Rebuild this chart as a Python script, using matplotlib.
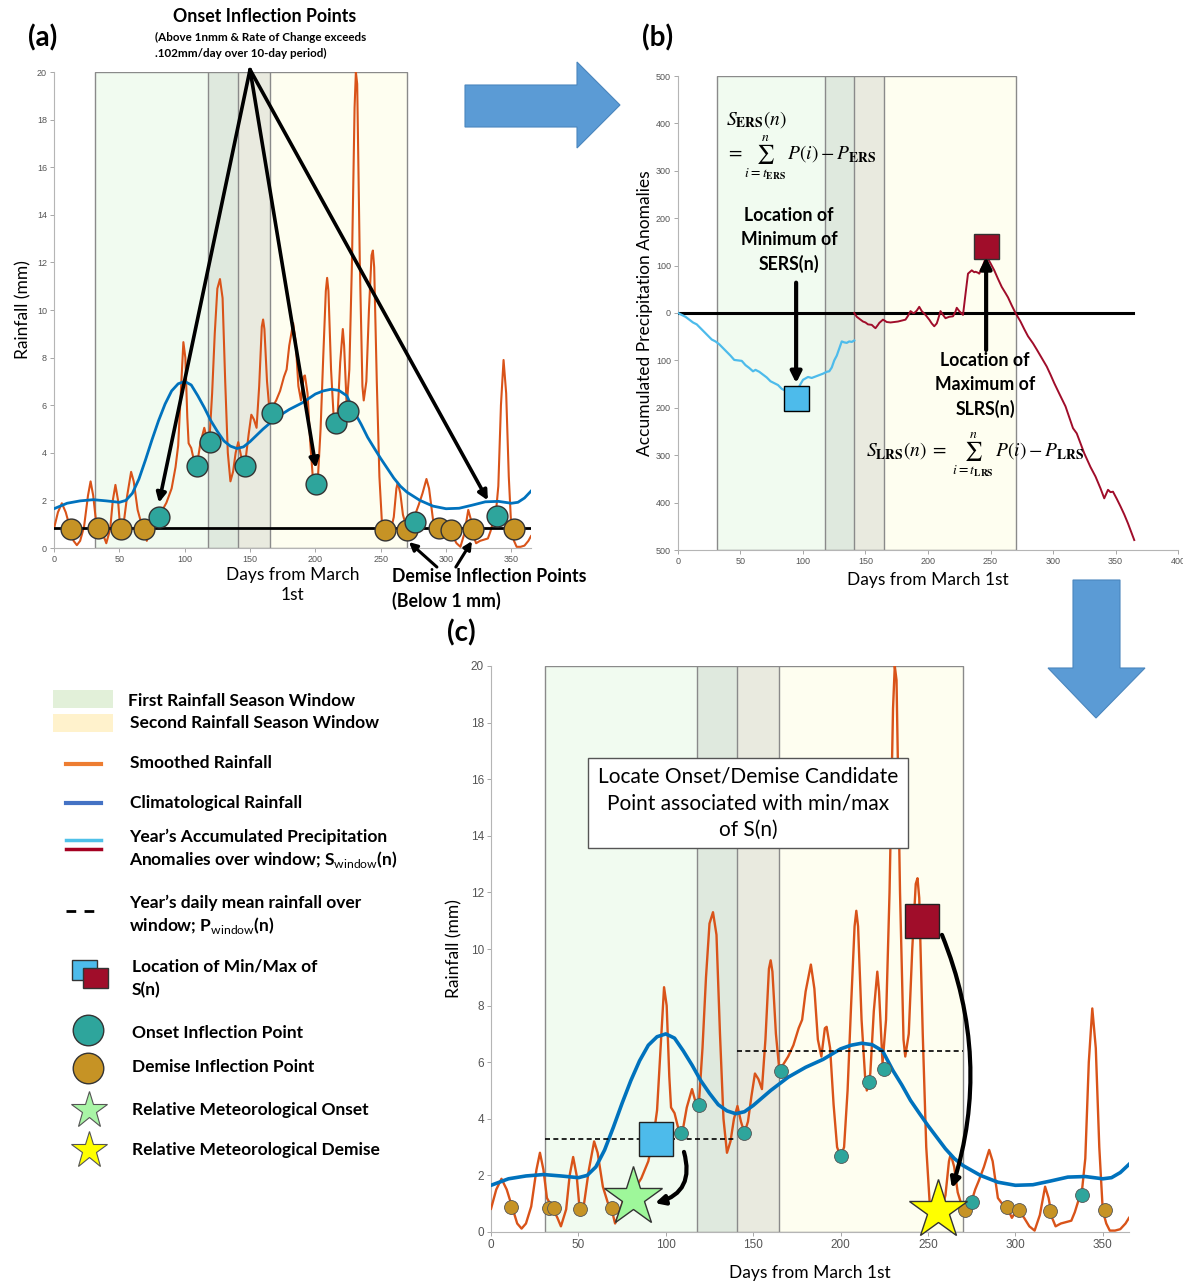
import numpy as np
import matplotlib
matplotlib.use('Agg')
import matplotlib.pyplot as plt
from matplotlib.patches import Rectangle, Polygon
from matplotlib.ticker import FuncFormatter

# ---------------- data ----------------
rain_days = [0, 3, 6, 9, 12, 15, 17.5, 20, 23, 26, 28, 30, 32, 35, 38, 40, 43, 45, 47, 49, 51, 53, 56, 59,
             61, 64, 67, 69, 71, 73, 76, 79, 81, 84, 86, 90, 93, 95, 97, 99, 100.5, 102, 103, 105, 107, 108,
             110, 112, 115, 117, 119, 121, 123, 125, 127, 129, 131, 133, 135, 137, 139, 141, 143, 145, 147,
             149, 151, 153, 155, 157, 159, 160, 161, 163, 165, 167, 170, 173, 176, 178, 180, 183, 185, 187,
             189, 191, 192, 194, 196, 198, 200, 202, 204, 206, 208, 209, 210, 212, 214, 215, 217, 219, 221,
             222, 224, 226, 228, 230, 231, 232, 234, 236, 237, 239, 241, 243, 244, 245, 247, 249, 251, 253,
             255, 257, 260, 262, 263, 265, 267, 270, 273, 275, 277, 279, 282, 285, 287, 290, 293, 295, 298,
             300, 302, 305, 308, 311, 314, 317, 319, 321, 323, 326, 329, 332, 334, 336, 338, 340, 342, 344,
             346, 348, 350, 352, 354, 357, 360, 363, 365]
rain_vals = [0.82, 1.5, 1.88, 1.5, 0.9, 0.3, 0.12, 0.3, 0.9, 2.2, 2.8, 2.2, 1.2, 0.88, 0.5, 0.2, 0.8, 2.0, 2.65,
             2.0, 0.6, 0.9, 2.2, 3.2, 2.8, 1.6, 1.0, 0.8, 0.3, 0.6, 1.2, 1.35, 1.4, 1.7, 1.9, 2.5, 3.4, 4.3,
             6.5, 8.65, 8.0, 5.5, 4.4, 4.2, 3.7, 3.5, 3.7, 4.4, 5.05, 4.6, 4.6, 6.5, 9.0, 10.9, 11.3, 10.5,
             7.0, 4.0, 2.8, 3.2, 4.0, 4.45, 3.9, 3.5, 3.9, 4.8, 5.6, 5.4, 5.05, 6.8, 9.3, 9.6, 9.2, 7.0, 5.7,
             5.9, 6.2, 6.6, 7.2, 7.5, 8.5, 9.45, 8.6, 6.8, 6.2, 7.2, 7.25, 6.5, 4.5, 3.0, 2.65, 3.0, 5.0, 8.0,
             10.8, 11.35, 10.8, 7.5, 5.5, 5.0, 5.6, 7.8, 9.2, 8.5, 5.95, 7.5, 12.0, 18.5, 20.0, 19.5, 12.0,
             6.8, 6.2, 7.0, 10.0, 12.3, 12.5, 11.8, 7.0, 3.0, 1.0, 0.7, 0.5, 0.6, 1.3, 2.5, 2.75, 2.3, 1.4,
             0.8, 0.9, 1.1, 1.5, 1.8, 2.3, 2.9, 2.5, 1.2, 0.95, 0.9, 0.5, 0.7, 0.75, 0.5, 0.2, 0.05, 0.6, 1.6,
             1.2, 0.5, 0.2, 0.3, 0.35, 0.4, 0.7, 1.1, 1.4, 2.6, 6.0, 7.9, 6.5, 3.0, 0.75, 0.3, 0.05, 0.05,
             0.1, 0.3, 0.5]

clim_days = [0, 10, 20, 30, 40, 50, 55, 60, 65, 70, 75, 80, 85, 90, 95, 100, 105, 110, 115, 120, 125, 130, 135,
             140, 145, 150, 160, 170, 180, 190, 200, 206, 212, 218, 224, 230, 235, 240, 245, 250, 255, 260, 265,
             270, 280, 290, 300, 310, 320, 330, 340, 350, 355, 360, 365]
clim_vals = [1.65, 1.88, 1.98, 2.03, 1.98, 1.92, 2.0, 2.3, 2.9, 3.7, 4.55, 5.35, 6.05, 6.6, 6.9, 7.0, 6.85, 6.4,
             5.9, 5.35, 4.9, 4.5, 4.28, 4.18, 4.25, 4.47, 5.0, 5.47, 5.82, 6.1, 6.47, 6.6, 6.67, 6.62, 6.4, 5.7,
             5.2, 4.65, 4.2, 3.76, 3.35, 2.94, 2.6, 2.35, 2.0, 1.76, 1.65, 1.67, 1.8, 1.94, 1.96, 1.88, 1.92,
             2.1, 2.39]

# onset / demise inflection points, panel (a)
onset_a_days = [80, 109.6, 119, 146, 167, 200.7, 215.6, 225, 276, 339]
onset_a_vals = [1.3, 3.45, 4.45, 3.45, 5.66, 2.69, 5.24, 5.76, 1.09, 1.36]
demise_a_days = [13, 34, 51, 69, 253, 270, 294.5, 304, 321, 352]
demise_a_vals = [0.81, 0.82, 0.81, 0.8, 0.77, 0.77, 0.83, 0.77, 0.8, 0.79]
demise_threshold = 0.82

# panel (c) points
onset_c_days = [108.5, 119, 145, 166, 200, 216, 225, 275, 338]
onset_c_vals = [3.5, 4.5, 3.5, 5.7, 2.7, 5.3, 5.75, 1.05, 1.3]
demise_c_days = [11.6, 33, 36, 51, 69, 271, 295, 302, 320, 351]
demise_c_vals = [0.9, 0.86, 0.86, 0.82, 0.86, 0.79, 0.88, 0.76, 0.74, 0.79]

# windows: first season and second season
window_edges = [31, 118, 141, 165, 270]
window_colors = ['#f1fbf0', '#dfe9de', '#e9eadf', '#fefef0']
window_start = [31, 141]
window_end = [139, 270]
window_mean = [3.27, 6.41]

# accumulated anomalies (panel b)
ers_days = [0, 3, 6, 9, 12, 15, 18, 21, 24, 27, 30, 33, 36, 39, 42, 45, 48, 51, 54, 57, 60, 62, 65, 68, 71, 74,
            77, 80, 83, 86, 89, 92, 94, 96, 98, 100, 102, 104, 107, 110, 113, 116, 119, 121, 123, 125, 127,
            129, 131, 133, 135, 137, 139, 141]
ers_vals = [0, -4, -8, -14, -20, -24, -32, -40, -48, -56, -60, -66, -74, -82, -90, -99, -100, -101, -110, -116,
            -123, -120, -124, -130, -136, -144, -148, -152, -160, -164, -168, -170, -168, -160, -150, -141,
            -138, -135, -137, -134, -131, -128, -124, -123, -115, -100, -90, -75, -60, -62, -63, -60, -61, -58]
lrs_days = [141, 143, 146, 148, 150, 152, 155, 157, 158, 160, 161, 164, 167, 170, 173, 176, 179, 182, 184, 186,
            188, 189, 191, 193, 195, 198, 201, 203, 205, 207, 208, 210, 212, 214, 217, 220, 222, 223, 225, 228,
            230, 232, 235, 237, 238, 240, 241, 244, 246, 247, 250, 253, 256, 259, 262, 264, 267, 270, 274, 277,
            280, 284, 287, 291, 295, 298, 301, 305, 310, 313, 316, 319, 322, 325, 330, 334, 338, 341, 344, 346,
            348, 351, 354, 357, 360, 363, 365]
lrs_vals = [0, -8, -14, -18, -20, -24, -25, -30, -32, -25, -21, -14, -19, -20, -19, -18, -16, -14, -6, 4, 0, 0,
            5, 13, 4, -4, -14, -22, -28, -22, -14, 4, -4, -11, -8, -7, 3, 11, 4, -4, 40, 83, 90, 86, 87, 85, 83,
            100, 115, 119, 105, 90, 72, 55, 42, 33, 16, 0, -18, -34, -49, -64, -77, -95, -113, -130, -148, -170,
            -197, -220, -243, -254, -275, -296, -325, -345, -370, -391, -373, -378, -377, -392, -408, -425,
            -444, -465, -479]

# min / max of S(n) and relative onset / demise
ers_min_day, ers_min_val_b, ers_min_val_c = 94.5, -179, 3.3
lrs_max_day, lrs_max_val_b, lrs_max_val_c = 246.5, 141, 11.0
rel_onset_day, rel_onset_val = 81, 1.24
rel_demise_day, rel_demise_val = 256, 0.78

# colours
ORANGE = '#d95319'
BLUE = '#0072bd'
TEAL = '#2ea59c'
GOLD = '#c69325'
LBLUE = '#4dbbeb'
DRED = '#a00d2a'

plt.rcParams['font.family'] = ['Liberation Sans Narrow', 'Liberation Sans', 'DejaVu Sans']
plt.rcParams['mathtext.fontset'] = 'custom'
plt.rcParams['mathtext.rm'] = 'Lato'
plt.rcParams['mathtext.bf'] = 'Lato:bold'
FONT = 'Lato'

W, H = 1183, 1283
fig = plt.figure(figsize=(W / 100, H / 100), dpi=100)


def style_axes(ax, xlim, ylim, xt, yt, fs):
    ax.set_xlim(*xlim)
    ax.set_ylim(*ylim)
    ax.set_xticks(xt)
    ax.set_yticks(yt)
    for s in ['top', 'right']:
        ax.spines[s].set_visible(False)
    for s in ['left', 'bottom']:
        ax.spines[s].set_color('#b5b5b5')
        ax.spines[s].set_linewidth(0.8)
    ax.tick_params(length=3, width=0.6, color='#999999', labelsize=fs, labelcolor='#555555', pad=2)
    ax.set_facecolor('none')


def shade(ax, ylo, yhi):
    for x0, x1, c in zip(window_edges[:-1], window_edges[1:], window_colors):
        ax.fill_between([x0, x1], ylo, yhi, color=c, lw=0, zorder=0)
    ax.add_patch(Rectangle((window_edges[0], ylo), window_edges[-1] - window_edges[0], yhi - ylo,
                           fill=False, ec='#8a8a8a', lw=1, zorder=1))
    ax.vlines(window_edges[1:-1], ylo, yhi, color='#8a8a8a', lw=1, zorder=1)


# ---------------- panel (a) ----------------
ax_a = fig.add_axes([54 / W, 1 - 548 / H, 477 / W, 476 / H])
style_axes(ax_a, (0, 365), (0, 20), range(0, 351, 50), range(0, 21, 2), 6.5)
shade(ax_a, 0, 20)
ax_a.plot(rain_days, rain_vals, color=ORANGE, lw=1.5, zorder=3)
ax_a.plot(clim_days, clim_vals, color=BLUE, lw=2.0, zorder=4)
ax_a.plot([0, 365], [demise_threshold, demise_threshold], color='k', lw=2, zorder=4)
ax_a.plot(demise_a_days, demise_a_vals, 'o', ms=15, mfc=GOLD, mec='#333333', mew=1, zorder=6, clip_on=False)
ax_a.plot(onset_a_days, onset_a_vals, 'o', ms=15, mfc=TEAL, mec='#333333', mew=1, zorder=6, clip_on=False)
ax_a.set_ylabel('Rainfall (mm)', family=FONT, fontsize=12.5, labelpad=4)
ax_a.set_xlabel('Days from March\n1st', family=FONT, fontsize=12.5, labelpad=2, linespacing=1.3)

apex = (150, 20.1)
for tip in [(80.3, 1.9), (200.5, 3.36), (332, 2.0)]:
    ax_a.annotate('', xy=tip, xytext=apex, annotation_clip=False,
                  arrowprops=dict(arrowstyle='-|>', lw=2.6, color='k', mutation_scale=14,
                                  shrinkA=0, shrinkB=0), zorder=8)
for tip, src in [((271.6, 0.25), (293, -0.8)), ((319.8, 0.29), (307.5, -0.8))]:
    ax_a.annotate('', xy=tip, xytext=src, annotation_clip=False,
                  arrowprops=dict(arrowstyle='-|>', lw=2.2, color='k', mutation_scale=12,
                                  shrinkA=0, shrinkB=0), zorder=8)

# ---------------- panel (b) ----------------
ax_b = fig.add_axes([678 / W, 1 - 550 / H, 500 / W, 474 / H])
style_axes(ax_b, (0, 400), (-500, 500), range(0, 401, 50), range(-500, 501, 100), 6.5)
ax_b.yaxis.set_major_formatter(FuncFormatter(lambda v, p: f'{abs(int(v))}'))
shade(ax_b, -500, 500)
ax_b.plot([0, 364], [0, 0], color='k', lw=2.2, zorder=4)
ax_b.plot(ers_days, ers_vals, color=LBLUE, lw=1.6, zorder=5)
ax_b.plot(lrs_days, lrs_vals, color=DRED, lw=1.4, zorder=5)
ax_b.plot([ers_min_day], [ers_min_val_b], 's', ms=18, mfc=LBLUE, mec='k', mew=1, zorder=6)
ax_b.plot([lrs_max_day], [lrs_max_val_b], 's', ms=18, mfc=DRED, mec='#333333', mew=1, zorder=6)
ax_b.annotate('', xy=(ers_min_day, -148), xytext=(ers_min_day, 64),
              arrowprops=dict(arrowstyle='-|>', lw=3, color='k', mutation_scale=16, shrinkA=0, shrinkB=0),
              zorder=8)
ax_b.annotate('', xy=(lrs_max_day, 118), xytext=(lrs_max_day, -78),
              arrowprops=dict(arrowstyle='-|>', lw=3, color='k', mutation_scale=16, shrinkA=0, shrinkB=0),
              zorder=8)
ax_b.set_ylabel('Accumulated Precipitation Anomalies', family=FONT, fontsize=12.5, labelpad=2)
ax_b.set_xlabel('Days from March 1st', family=FONT, fontsize=12.5, labelpad=4)

# ---------------- panel (c) ----------------
ax_c = fig.add_axes([491 / W, 1 - 1232 / H, 638 / W, 566 / H])
style_axes(ax_c, (0, 365), (0, 20), range(0, 351, 50), range(0, 21, 2), 8.5)
shade(ax_c, 0, 20)
ax_c.plot(rain_days, rain_vals, color=ORANGE, lw=1.7, zorder=3)
ax_c.plot(clim_days, clim_vals, color=BLUE, lw=2.6, zorder=4)
for x0, x1, m in zip(window_start, window_end, window_mean):
    ax_c.plot([x0, x1], [m, m], color='k', lw=1.2, ls=(0, (3, 2)), zorder=4)
ax_c.plot(demise_c_days, demise_c_vals, 'o', ms=10, mfc=GOLD, mec='#555555', mew=0.6, zorder=6)
ax_c.plot(onset_c_days, onset_c_vals, 'o', ms=10, mfc=TEAL, mec='#555555', mew=0.6, zorder=6)
ax_c.plot([ers_min_day], [ers_min_val_c], 's', ms=24, mfc=LBLUE, mec='#222222', mew=1, zorder=7)
ax_c.plot([lrs_max_day], [lrs_max_val_c], 's', ms=24, mfc=DRED, mec='#222222', mew=1, zorder=7)
ax_c.plot([rel_onset_day], [rel_onset_val], '*', ms=44, mfc='#9ef79a', mec='#333333', mew=1, zorder=7)
ax_c.plot([rel_demise_day], [rel_demise_val], '*', ms=44, mfc='#ffff00', mec='#333333', mew=1, zorder=7,
          clip_on=False)
ax_c.annotate('', xy=(93.8, 1.02), xytext=(110.4, 2.83),
              arrowprops=dict(arrowstyle='-|>', lw=3, color='k', mutation_scale=14, shrinkA=0, shrinkB=0,
                              connectionstyle='arc3,rad=-0.5'), zorder=8)
ax_c.annotate('', xy=(263.7, 1.55), xytext=(258, 10.5),
              arrowprops=dict(arrowstyle='-|>', lw=3, color='k', mutation_scale=14, shrinkA=0, shrinkB=0,
                              connectionstyle='arc3,rad=-0.18'), zorder=8)
ax_c.set_ylabel('Rainfall (mm)', family=FONT, fontsize=12.5, labelpad=6)
ax_c.set_xlabel('Days from March 1st', family=FONT, fontsize=12.5, labelpad=10)

# ---------------- overlay (pixel coordinates) ----------------
ov = fig.add_axes([0, 0, 1, 1], zorder=10)
ov.set_xlim(0, W)
ov.set_ylim(H, 0)
ov.axis('off')
ov.patch.set_alpha(0)


def txt(x, y, s, size=12.5, bold=True, ha='left', va='center', **kw):
    ov.text(x, y, s, fontsize=size, family=FONT, weight='bold' if bold else 'normal', ha=ha, va=va,
            math_fontfamily='custom', **kw)


txt(28, 38, '(a)', size=20)
txt(642, 38, '(b)', size=20)
txt(447, 633, '(c)', size=20)
txt(265, 16, 'Onset Inflection Points', size=12.8, ha='center')
txt(155, 37, '(Above 1nmm & Rate of Change exceeds', size=8.4)
txt(155, 53, '.102mm/day over 10-day period)', size=8.4)
txt(392, 589, 'Demise Inflection Points\n(Below 1 mm)', size=12.8, linespacing=1.45)

# panel (b) texts
txt(789, 240, 'Location of\nMinimum of\nSERS(n)', size=12.8, ha='center', linespacing=1.45)
txt(985, 385, 'Location of\nMaximum of\nSLRS(n)', size=12.8, ha='center', linespacing=1.45)
ov.text(726, 120, r'$S_{\mathbf{ERS}}(n)$', fontsize=14, math_fontfamily='stix', va='center')
ov.text(726, 158, r'$=\sum_{i=t_{\mathbf{ERS}}}^{n}\,P(i)-P_{\mathbf{ERS}}$', fontsize=14,
        math_fontfamily='stix', va='center')
ov.text(866, 455, r'$S_{\mathbf{LRS}}(n)\;=\;\sum_{i=t_{\mathbf{LRS}}}^{n}\,P(i)-P_{\mathbf{LRS}}$',
        fontsize=14, math_fontfamily='stix', va='center')

# panel (c) text box
ov.add_patch(Rectangle((588, 758), 320, 90, fc='white', ec='#555555', lw=1, zorder=5))
txt(748, 803, 'Locate Onset/Demise Candidate\nPoint associated with min/max\nof S(n)', size=15,
    bold=False, ha='center', linespacing=1.42, zorder=6)

# big blue arrows
ov.add_patch(Polygon([(465, 85), (577, 85), (577, 62), (620, 105), (577, 148), (577, 127), (465, 127)],
                     closed=True, fc='#5b9bd5', ec='#4a86be', lw=0.8))
ov.add_patch(Polygon([(1073, 580), (1120, 580), (1120, 668), (1145, 668), (1096, 718), (1048, 668),
                      (1073, 668)], closed=True, fc='#5b9bd5', ec='#4a86be', lw=0.8))

# legend
ov.add_patch(Rectangle((53, 690), 60, 18, fc='#e2f0d9', ec='none'))
ov.add_patch(Rectangle((53, 714), 60, 18, fc='#fff2cc', ec='none'))
txt(128, 701, 'First Rainfall Season Window')
txt(130, 723, 'Second Rainfall Season Window')
ov.plot([66, 101], [764, 764], color='#ed7d31', lw=3)
txt(130, 763, 'Smoothed Rainfall')
ov.plot([66, 101], [803, 803], color='#4472c4', lw=3)
txt(130, 803, 'Climatological Rainfall')
ov.plot([66, 101], [840, 840], color='#4fc1e9', lw=2.5)
ov.plot([66, 101], [849, 849], color='#a50021', lw=2.5)
txt(129, 837, 'Year’s Accumulated Precipitation')
txt(129, 860, r'Anomalies over window; S$_{\mathrm{window}}$(n)')
ov.plot([66, 101], [911, 911], color='k', lw=2, ls=(0, (3.5, 3)))
txt(129, 903, 'Year’s daily mean rainfall over')
txt(129, 926, r'window; P$_{\mathrm{window}}$(n)')
ov.add_patch(Rectangle((72, 960), 25, 20, fc=LBLUE, ec='#333333', lw=1))
ov.add_patch(Rectangle((83, 968), 25, 20, fc=DRED, ec='#333333', lw=1))
txt(132, 966, 'Location of Min/Max of')
txt(132, 990, 'S(n)')
ov.plot([88], [1030], 'o', ms=22, mfc=TEAL, mec='#333333', mew=1)
txt(132, 1033, 'Onset Inflection Point')
ov.plot([88], [1068], 'o', ms=22, mfc=GOLD, mec='#333333', mew=1)
txt(132, 1067, 'Demise Inflection Point')
ov.plot([89], [1110], '*', ms=28, mfc='#a9f5a6', mec='#555555', mew=0.8)
txt(132, 1110, 'Relative Meteorological Onset')
ov.plot([89], [1150], '*', ms=28, mfc='#ffff00', mec='#555555', mew=0.8)
txt(132, 1150, 'Relative Meteorological Demise')

fig.savefig('out.png', dpi=100)
